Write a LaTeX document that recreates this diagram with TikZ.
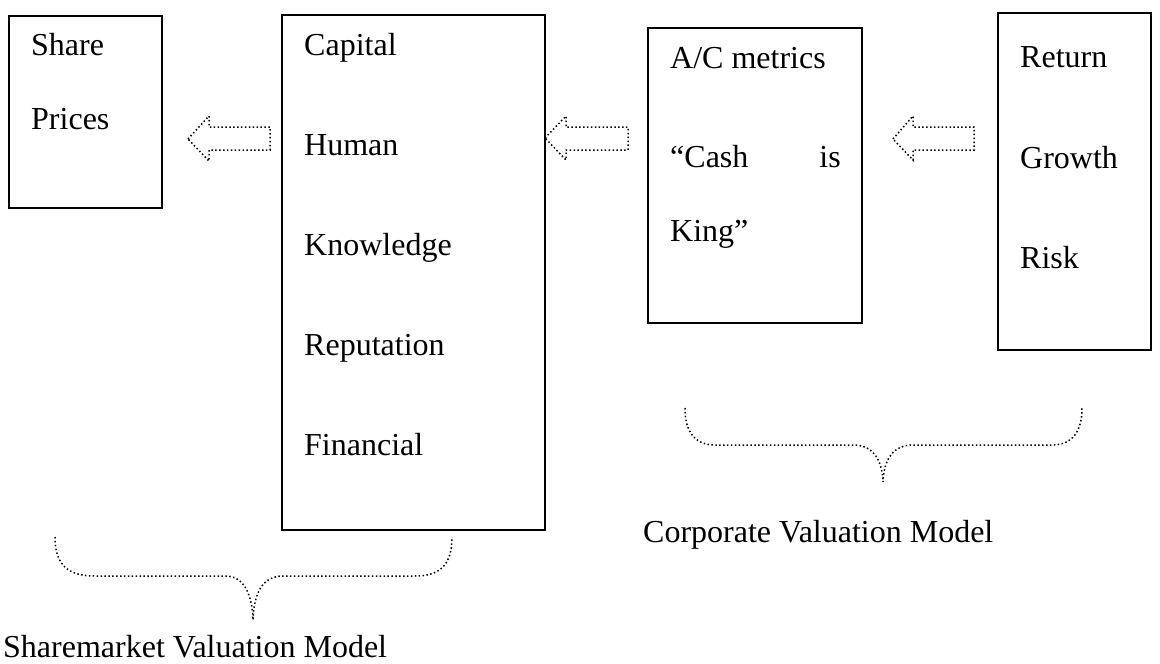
\documentclass[tikz,border=0pt]{standalone}
\usepackage{fontspec}
\setmainfont{Liberation Serif}
\begin{document}
\begin{tikzpicture}[x=1pt,y=-1pt,
  box/.style={draw,line width=2pt},
  lbl/.style={anchor=base west,inner sep=0pt,font=\fontsize{32}{38}\selectfont},
  lblr/.style={anchor=base east,inner sep=0pt,font=\fontsize{32}{38}\selectfont},
  dots/.style={line width=1.5pt,dash pattern=on 1.5pt off 2.4pt},
]
\useasboundingbox (0,0) rectangle (1160,664);
% boxes
\draw[box] (9,16) rectangle (162,208);
\draw[box] (282,15) rectangle (545,530);
\draw[box] (648,28) rectangle (862,323);
\draw[box] (998,13) rectangle (1151,350);
% texts
\node[lbl] (t1) at (31,55) {Share};
\node[lbl] (t2) at (31,129) {Prices};
\node[lbl] (c1) at (304,55) {Capital};
\node[lbl] (c2) at (304,155) {Human};
\node[lbl] (c3) at (304,255) {Knowledge};
\node[lbl] (c4) at (304,355) {Reputation};
\node[lbl] (c5) at (304,455) {Financial};
\node[lbl] (a1) at (670,68) {A/C metrics};
\node[lbl] (a2) at (670,167) {“Cash};
\node[lblr] (a2b) at (841,167) {is};
\node[lbl] (a3) at (670,241) {King”};
\node[lbl] (r1) at (1020,67) {Return};
\node[lbl] (r2) at (1020,168) {Growth};
\node[lbl] (r3) at (1020,268) {Risk};
\node[lbl] (m1) at (3,657) {Sharemarket Valuation Model};
\node[lbl] (m2) at (643,542) {Corporate Valuation Model};
% hollow dotted arrows
\draw[dots] (188,139) -- (209,116) -- (209,127) -- (270,127) -- (270,150) -- (209,150) -- (209,161) -- cycle;
\draw[dots] (545,138) -- (566,116) -- (566,127) -- (628,127) -- (628,150) -- (566,150) -- (566,160) -- cycle;
\draw[dots] (893,139) -- (913,116) -- (913,127) -- (974,127) -- (974,150) -- (913,150) -- (913,160) -- cycle;
% braces
\draw[dots] (55,537) .. controls (55,565) and (68,576) .. (95,576) -- (225,576)
  .. controls (243,576) and (252,592) .. (253,620)
  .. controls (254,592) and (263,576) .. (283,576) -- (415,576)
  .. controls (440,576) and (452,565) .. (452,537);
\draw[dots] (685,408) .. controls (685,432) and (695,445) .. (715,445) -- (853,445)
  .. controls (872,445) and (882,458) .. (883,482)
  .. controls (884,458) and (894,445) .. (913,445) -- (1052,445)
  .. controls (1072,445) and (1082,432) .. (1082,408);
\end{tikzpicture}
\end{document}
